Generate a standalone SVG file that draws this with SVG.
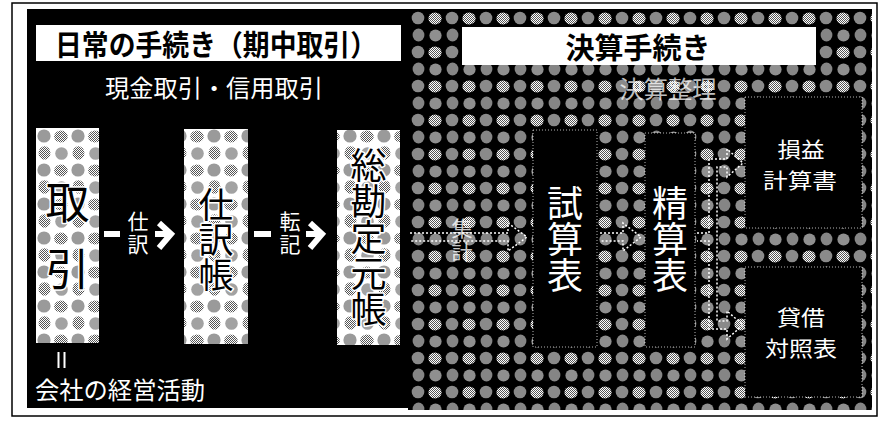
<svg xmlns="http://www.w3.org/2000/svg" width="881" height="421" viewBox="0 0 881 421">
<defs>
<style>
.t{font-family:"Noto Sans CJK JP","Noto Sans CJK SC",sans-serif;font-weight:700;fill:#000;}
.w{font-family:"Noto Sans CJK JP","Noto Sans CJK SC",sans-serif;fill:#fff;font-weight:400;}
.bx{font-family:"Noto Sans CJK JP","Noto Sans CJK SC",sans-serif;fill:#000;font-weight:400;stroke:#fff;stroke-width:3;paint-order:stroke;stroke-linejoin:round;}
.v{writing-mode:vertical-rl;}
.dash{fill:none;stroke:#fff;stroke-width:1.5;stroke-dasharray:2 2;}
.edge{fill:#000;stroke:#fff;stroke-width:1;stroke-dasharray:1 2;stroke-opacity:0.7;}
</style>
<pattern id="chk" width="2" height="2" patternUnits="userSpaceOnUse">
<rect width="2" height="2" fill="#fff"/>
<rect width="1" height="1" fill="#555"/>
<rect x="1" y="1" width="1" height="1" fill="#555"/>
</pattern>
<pattern id="dk" width="34" height="34" patternUnits="userSpaceOnUse" x="410" y="10">
<rect width="34" height="34" fill="#000"/>
<circle cx="8" cy="8" r="6.3" fill="#8a8a8a"/>
<ellipse cx="25" cy="8.5" rx="6.6" ry="5.9" fill="url(#chk)"/>
<ellipse cx="8.5" cy="25" rx="5.9" ry="6.5" fill="#858585"/>
<circle cx="25.5" cy="25.5" r="6.1" fill="#8f8f8f"/>
</pattern>
<pattern id="lt" width="34" height="34" patternUnits="userSpaceOnUse" x="36" y="128">
<rect width="34" height="34" fill="#fff"/>
<circle cx="8" cy="8" r="6.6" fill="#9a9a9a"/>
<ellipse cx="25" cy="8.5" rx="6.8" ry="6" fill="url(#chk)"/>
<ellipse cx="8.5" cy="25" rx="6" ry="6.7" fill="url(#chk)"/>
<circle cx="25.5" cy="25.5" r="6.3" fill="#a2a2a2"/>
</pattern>
</defs>

<rect x="0" y="0" width="881" height="421" fill="#fff"/>
<rect id="frame" x="12" y="3" width="865" height="413" fill="#fff" stroke="#000" stroke-width="1.5"/>

<g id="left-panel">
<rect x="27" y="9" width="381" height="399" fill="#000"/>
<rect x="36" y="25" width="365" height="36" fill="#fff"/>
<text class="t" x="216" y="43" font-size="29" text-anchor="middle" dominant-baseline="central" textLength="322" lengthAdjust="spacingAndGlyphs">日常の手続き（期中取引）</text>
<text class="w" x="214" y="86" font-size="24" text-anchor="middle" dominant-baseline="central" textLength="218" lengthAdjust="spacingAndGlyphs">現金取引・信用取引</text>
<rect x="57.5" y="352" width="2" height="16" fill="#fff"/>
<rect x="63.5" y="352" width="2" height="16" fill="#fff"/>
<text class="w" x="35" y="388" font-size="24" dominant-baseline="central" textLength="170" lengthAdjust="spacingAndGlyphs">会社の経営活動</text>
</g>

<g id="right-panel">
<rect x="408" y="9" width="464" height="401" fill="url(#dk)"/>
<rect x="462" y="27" width="354" height="38" fill="#fff"/>
<text class="t" x="638" y="46" font-size="29" text-anchor="middle" dominant-baseline="central">決算手続き</text>
<text class="w" x="668" y="87" font-size="24" text-anchor="middle" dominant-baseline="central" fill-opacity="0.75" textLength="97" lengthAdjust="spacingAndGlyphs">決算整理</text>
</g>

<g id="node-torihiki">
<rect x="36" y="128" width="63" height="215" fill="url(#lt)"/>
<text class="bx v" x="67.5" y="180" font-size="44" letter-spacing="23">取引</text>
</g>

<g id="node-shiwakecho">
<rect x="184" y="129" width="64" height="215" fill="url(#lt)"/>
<text class="bx v" x="216" y="187" font-size="35">仕訳帳</text>
</g>

<g id="node-motocho">
<rect x="337" y="130" width="63" height="215" fill="url(#lt)"/>
<text class="bx v" x="368.5" y="147" font-size="36">総勘定元帳</text>
</g>

<g id="node-shisanhyo">
<rect class="edge" x="533" y="130" width="64" height="217"/>
<text class="w v" x="565" y="185" font-size="36">試算表</text>
</g>

<g id="node-seisanhyo">
<rect class="edge" x="645" y="133" width="50" height="214"/>
<text class="w v" x="670" y="185" font-size="36">精算表</text>
</g>

<g id="node-pl">
<rect class="edge" x="745" y="97" width="117" height="131"/>
<text class="w" x="801" y="148" font-size="21" text-anchor="middle" dominant-baseline="central" textLength="47" lengthAdjust="spacingAndGlyphs">損益</text>
<text class="w" x="800" y="179" font-size="21" text-anchor="middle" dominant-baseline="central" textLength="74" lengthAdjust="spacingAndGlyphs">計算書</text>
</g>

<g id="node-bs">
<rect class="edge" x="745" y="267" width="117" height="130"/>
<text class="w" x="801" y="316" font-size="21" text-anchor="middle" dominant-baseline="central" textLength="48" lengthAdjust="spacingAndGlyphs">貸借</text>
<text class="w" x="801" y="347" font-size="21" text-anchor="middle" dominant-baseline="central" textLength="72" lengthAdjust="spacingAndGlyphs">対照表</text>
</g>

<g id="connectors">
<g id="c-shiwake">
<rect x="104" y="231" width="16" height="6" fill="#fff"/>
<text class="w v" x="138" y="211" font-size="21" letter-spacing="2">仕訳</text>
<path d="M155,234 H170" stroke="#fff" stroke-width="6" fill="none"/>
<path d="M159,223 L171,234 L159,248" stroke="#fff" stroke-width="6" fill="none"/>
</g>
<g id="c-tenki">
<rect x="254" y="231" width="17" height="6" fill="#fff"/>
<text class="w v" x="290" y="211" font-size="21" letter-spacing="2">転記</text>
<path d="M306,234 H321" stroke="#fff" stroke-width="6" fill="none"/>
<path d="M310,223 L322,234 L310,248" stroke="#fff" stroke-width="6" fill="none"/>
</g>
<g id="c-shukei">
<path class="dash" d="M410,233 H508 V223 L527,237 L508,251 V241 H410"/>
<text class="w v" x="462" y="218" font-size="21" letter-spacing="2" fill-opacity="0.8">集計</text>
</g>
<path id="c-seisan" class="dash" d="M600,233 H623 V223 L641,237 L623,251 V241 H600"/>
<path id="c-fork" class="dash" d="M697,233 H709 V159 H727 V149 L743,163 L727,177 V167 H717 V321 H727 V311 L743,325 L727,339 V329 H709 V241 H697"/>
</g>
</svg>
